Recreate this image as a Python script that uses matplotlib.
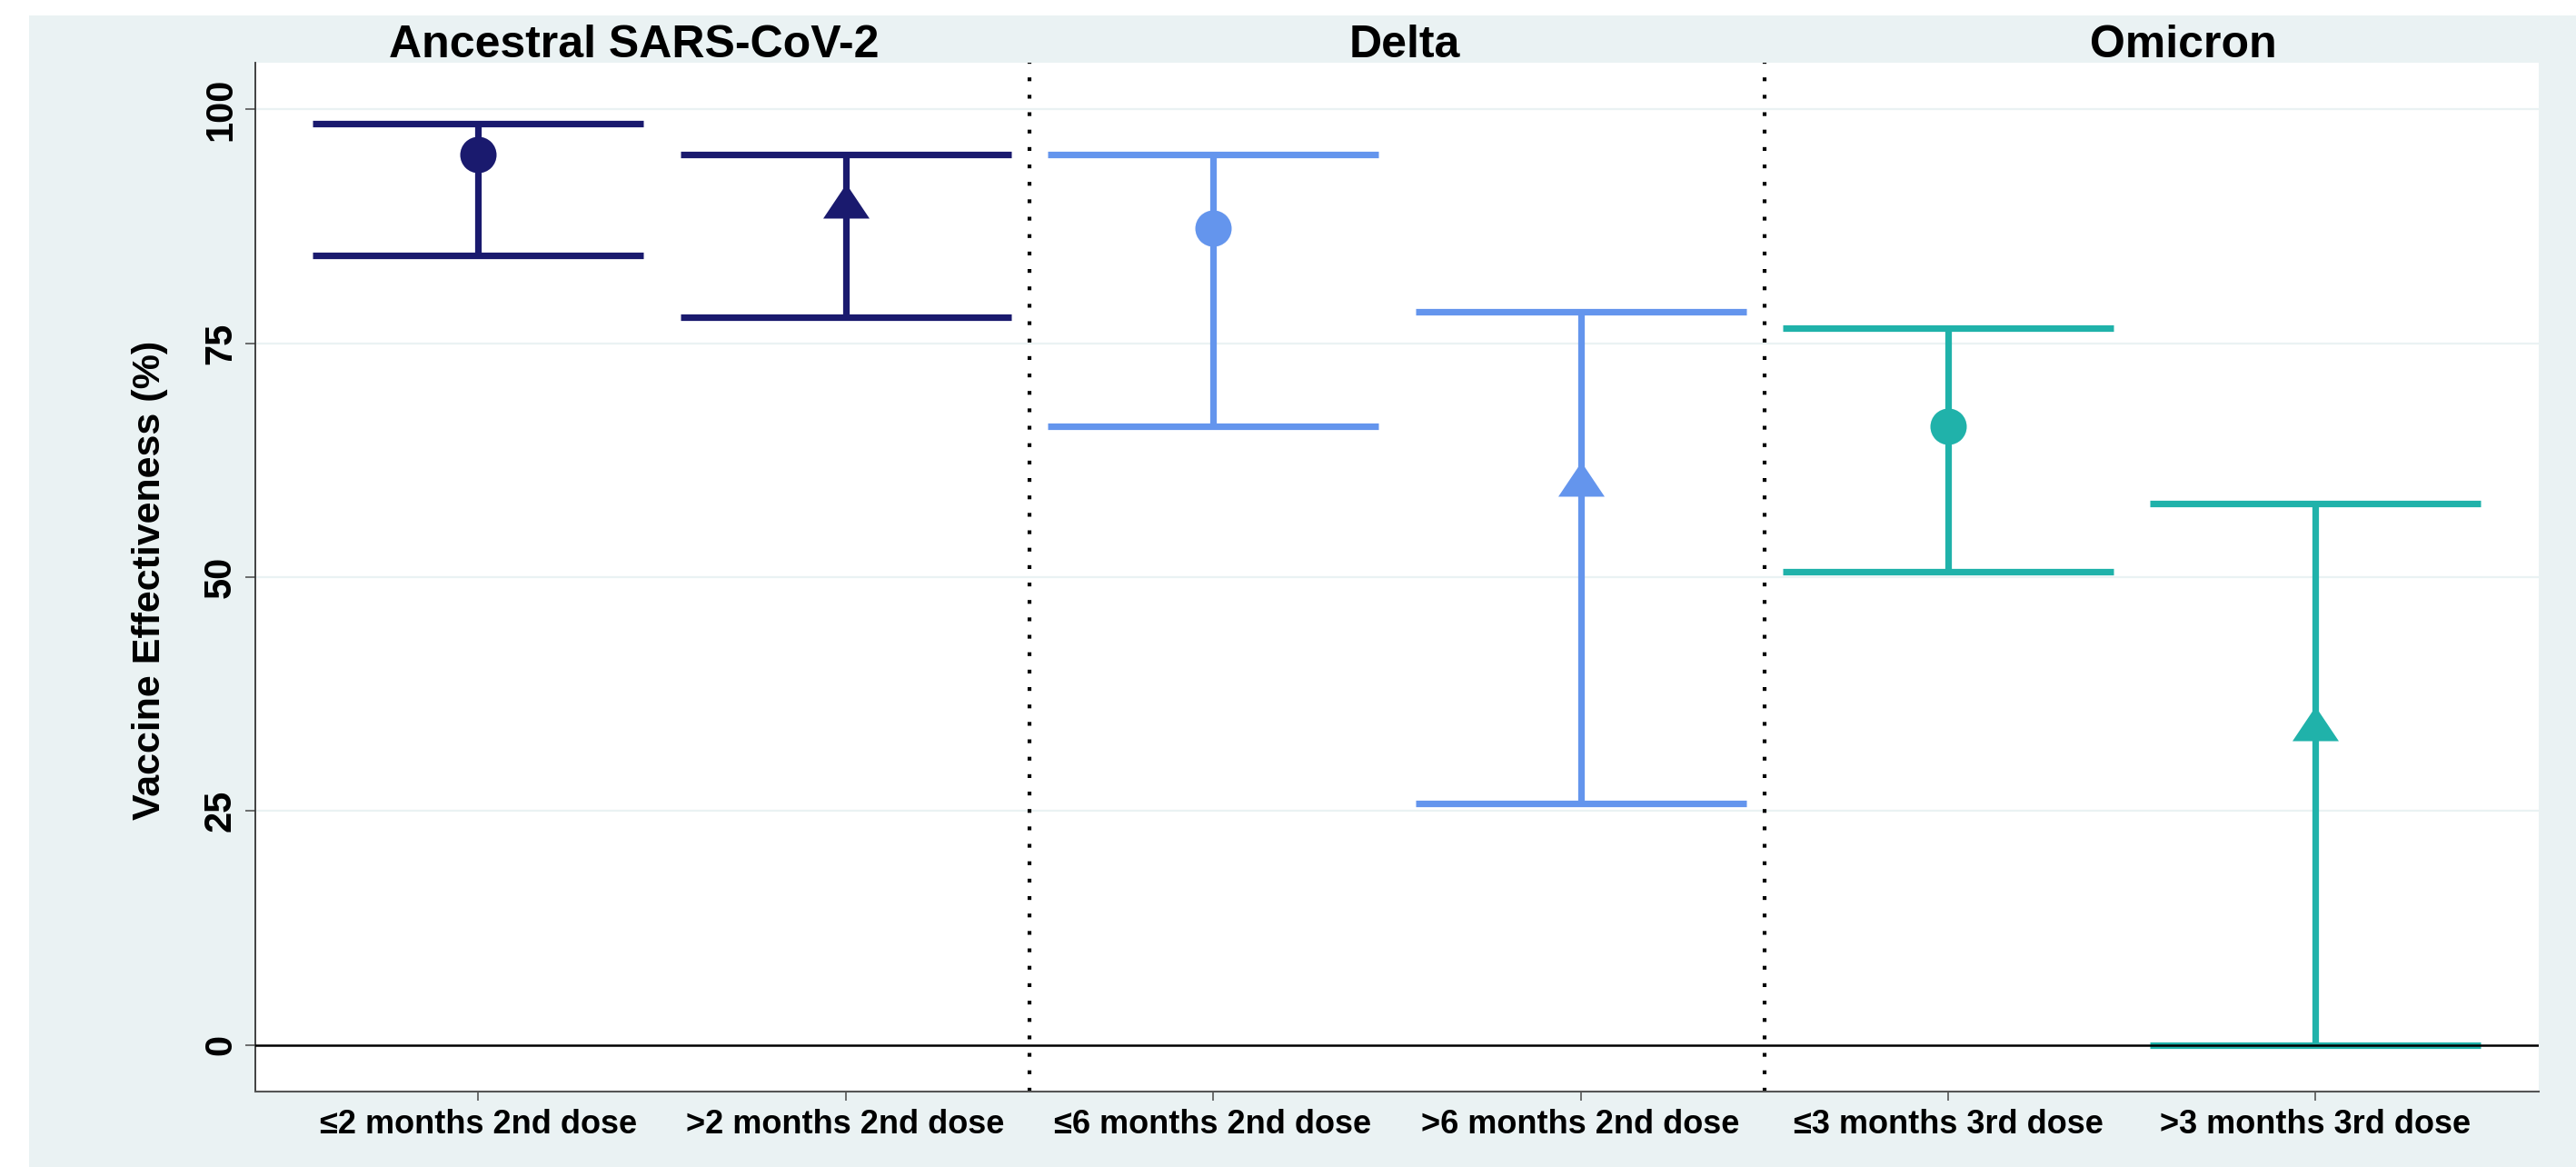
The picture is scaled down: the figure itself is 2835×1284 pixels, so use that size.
import matplotlib
matplotlib.use("Agg")
import matplotlib.pyplot as plt
import matplotlib.transforms as mtransforms
from matplotlib.patches import Rectangle
from matplotlib.path import Path

# data
groups = ["≤2 months 2nd dose", ">2 months 2nd dose", "≤6 months 2nd dose",
          ">6 months 2nd dose", "≤3 months 3rd dose", ">3 months 3rd dose"]
ve = [95.2, 90.2, 87.3, 60.5, 66.1, 34.4]
ci_low = [84.4, 77.8, 66.1, 25.8, 50.6, 0.0]
ci_high = [98.5, 95.2, 95.2, 78.4, 76.6, 57.9]
variant_of = [0, 0, 1, 1, 2, 2]
variants = ["Ancestral SARS-CoV-2", "Delta", "Omicron"]
variant_title_x = [1.425, 3.52, 5.64]
separators = [2.5, 4.5]
yticks = [0, 25, 50, 75, 100]

variant_colors = ["#1A1A6E", "#6495ED", "#20B2AA"]
BG = "#EAF2F3"
FONT = ["Liberation Sans", "DejaVu Sans"]
plt.rcParams["font.family"] = FONT
plt.rcParams["font.weight"] = "bold"

CAP_HALF = 0.45
LW = 5.2

tri = Path([(-1.0, -0.745), (1.0, -0.745), (0.0, 0.745), (-1.0, -0.745)],
           [Path.MOVETO, Path.LINETO, Path.LINETO, Path.CLOSEPOLY])
markers = ["o", tri]
msizes = [28.8, 36.7]

fig = plt.figure(figsize=(28.35, 12.84), dpi=100)
fig.patch.set_facecolor("white")
fig.add_artist(Rectangle((32 / 2835, 0), 1, 1 - 17 / 1284, transform=fig.transFigure,
                         facecolor=BG, edgecolor="none", zorder=-10))

ax = fig.add_axes([281 / 2835, 1 - 1201 / 1284, (2794 - 281) / 2835, (1201 - 69) / 1284])
ax.set_facecolor("white")

x = list(range(1, len(groups) + 1))
for i, xi in enumerate(x):
    c = variant_colors[variant_of[i]]
    ax.vlines(xi, ci_low[i], ci_high[i], color=c, linewidth=LW, zorder=3)
    ax.hlines([ci_low[i], ci_high[i]], xi - CAP_HALF, xi + CAP_HALF, color=c,
              linewidth=LW, zorder=3)
    ax.plot([xi], [ve[i]], marker=markers[i % 2], markersize=msizes[i % 2],
            color=c, markeredgewidth=0, linestyle="none", zorder=4)

ax.axhline(0, color="black", linewidth=1.8, zorder=5)
for s in separators:
    ax.axvline(s, color="black", linewidth=3.0, linestyle=(0, (1, 3.6)), zorder=2)

ax.set_yticks(yticks)
for yv in yticks[1:]:
    ax.axhline(yv, color=BG, linewidth=1.6, zorder=1)

ax.set_xlim(0.394, 6.607)
ax.set_ylim(-5, 105)
ax.set_xticks(x)
ax.set_xticklabels(groups)

ax.tick_params(axis="x", length=7, width=1.2, color="#555555", pad=7, labelsize=26)
ax.tick_params(axis="y", length=8, width=1.2, color="#555555", pad=5, labelsize=30)
plt.setp(ax.get_yticklabels(), rotation=90, va="center", fontweight="bold")
plt.setp(ax.get_xticklabels(), fontweight="bold")

for side in ["top", "right"]:
    ax.spines[side].set_visible(False)
ax.spines["left"].set_color("#333333")
ax.spines["left"].set_linewidth(1.3)
ax.spines["bottom"].set_color("#555555")
ax.spines["bottom"].set_linewidth(1.5)

trans = mtransforms.blended_transform_factory(ax.transData, ax.transAxes)
for name, tx in zip(variants, variant_title_x):
    ax.text(tx, 1.0053, name, transform=trans, ha="center", va="baseline",
            fontsize=36, fontweight="bold", clip_on=False)

fig.text(165 / 2835, 1 - 638 / 1284, "Vaccine Effectiveness (%)", rotation=90,
         ha="center", va="center", fontsize=31, fontweight="bold")

fig.savefig("out.png", dpi=100, facecolor=fig.get_facecolor())
